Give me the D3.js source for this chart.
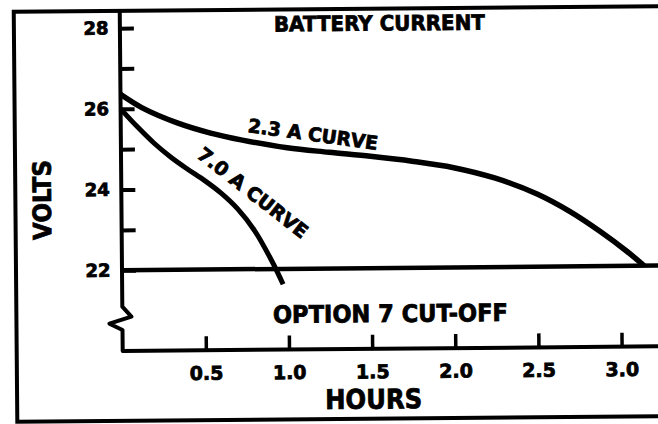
<!DOCTYPE html>
<html>
<head>
<meta charset="utf-8">
<script src="https://cdn.jsdelivr.net/npm/d3@7"></script>
<style>
  body { margin: 0; background: #fff; }
  svg { display: block; }
  text { font-family: "DejaVu Sans", sans-serif; font-weight: bold; fill: #000; stroke: #000; stroke-width: 0.8px; }
</style>
</head>
<body>
<div id="chart"></div>
<script>
// 2.3 A discharge curve
const hours23 = [0, 0.13, 0.34, 0.54, 0.73, 1.0, 1.25, 1.5, 1.75, 2.0, 2.25, 2.5, 2.7, 2.88, 3.04, 3.14];
const volts23 = [26.36, 26.02, 25.64, 25.38, 25.2, 25.0, 24.88, 24.77, 24.64, 24.47, 24.2, 23.8, 23.35, 22.85, 22.35, 22.0];

// 7.0 A discharge curve
const hours70 = [0, 0.1, 0.2, 0.3, 0.4, 0.5, 0.6, 0.7, 0.8, 0.9, 0.968];
const volts70 = [26.0, 25.55, 25.14, 24.79, 24.49, 24.21, 23.89, 23.49, 22.95, 22.21, 21.62];

const voltTicks = [22, 23, 24, 25, 26, 27, 28];
const voltLabels = [22, 24, 26, 28];
const hourTicks = [0.5, 1.0, 1.5, 2.0, 2.5, 3.0];
const cutOff = 22;

const width = 658;
const height = 424;

const svg = d3.select('#chart')
  .append('svg')
  .attr('width', width)
  .attr('height', height);

svg.append('rect').attr('width', width).attr('height', height).attr('fill', '#fff');

// the scan is slightly tilted
const g = svg.append('g').attr('transform', 'rotate(-0.5, 330, 212)');

const x = d3.scaleLinear().domain([0, 3.3]).range([121.5, 121.5 + 166.3 * 3.3]);
const y = d3.scaleLinear().domain([20, 28]).range([349.2, 26.3]);

// frame
g.append('path')
  .attr('d', `M ${width + 8},9 H 15.5 V 419 H ${width + 8}`)
  .attr('fill', 'none')
  .attr('stroke', '#000')
  .attr('stroke-width', 4);

// y axis (ticks inside, labels only on even volts)
const yAxis = d3.axisLeft(y)
  .tickValues(voltTicks)
  .tickSize(-14)
  .tickPadding(11.5)
  .tickFormat(d => voltLabels.includes(d) ? d : '');

g.append('g')
  .attr('transform', `translate(${x(0)},0)`)
  .call(yAxis)
  .call(a => a.select('.domain').remove())
  .call(a => a.selectAll('line').attr('stroke', '#000').attr('stroke-width', 4))
  .call(a => a.selectAll('text').style('font-size', '18px'));

// x axis (ticks pointing up)
const xAxis = d3.axisBottom(x)
  .tickValues(hourTicks)
  .tickSize(-14)
  .tickPadding(16)
  .tickFormat(d3.format('.1f'));

g.append('g')
  .attr('transform', `translate(0,${y(20)})`)
  .call(xAxis)
  .call(a => a.select('.domain').remove())
  .call(a => a.selectAll('line').attr('stroke', '#000').attr('stroke-width', 3.5))
  .call(a => a.selectAll('text').style('font-size', '19px'));

// axis lines with the break symbol on the volts axis
const x0 = x(0);
g.append('path')
  .attr('d', `M ${x0},9 V ${y(21.1)} L ${x0 + 9},${y(20.85)} L ${x0 - 13},${y(20.68)} L ${x0},${y(20.52)} V ${y(20)} H ${width + 8}`)
  .attr('fill', 'none')
  .attr('stroke', '#000')
  .attr('stroke-width', 4)
  .attr('stroke-linejoin', 'round');

// cut-off line
g.append('line')
  .attr('x1', x0).attr('x2', width + 8)
  .attr('y1', y(cutOff)).attr('y2', y(cutOff))
  .attr('stroke', '#000')
  .attr('stroke-width', 4.5);

const line = d3.line()
  .x(d => x(d[0]))
  .y(d => y(d[1]))
  .curve(d3.curveCatmullRom.alpha(0.5));

g.append('path')
  .datum(d3.zip(hours23, volts23))
  .attr('d', line)
  .attr('fill', 'none')
  .attr('stroke', '#000')
  .attr('stroke-width', 5.5);

g.append('path')
  .datum(d3.zip(hours70, volts70))
  .attr('d', line)
  .attr('fill', 'none')
  .attr('stroke', '#000')
  .attr('stroke-width', 5);

// labels
g.append('text')
  .attr('x', 381).attr('y', 31)
  .attr('text-anchor', 'middle')
  .attr('textLength', 211).attr('lengthAdjust', 'spacingAndGlyphs')
  .style('font-size', '21px')
  .text('BATTERY CURRENT');

g.append('text')
  .attr('transform', 'translate(313.7,134) rotate(8.4)')
  .attr('text-anchor', 'middle')
  .attr('dy', '0.36em')
  .attr('textLength', 131).attr('lengthAdjust', 'spacingAndGlyphs')
  .style('font-size', '19px')
  .text('2.3 A CURVE');

g.append('text')
  .attr('transform', 'translate(253,192) rotate(38.5)')
  .attr('text-anchor', 'middle')
  .attr('dy', '0.36em')
  .attr('textLength', 134).attr('lengthAdjust', 'spacingAndGlyphs')
  .style('font-size', '19px')
  .text('7.0 A CURVE');

g.append('text')
  .attr('x', 389.5).attr('y', 322.5)
  .attr('text-anchor', 'middle')
  .attr('textLength', 235).attr('lengthAdjust', 'spacingAndGlyphs')
  .style('font-size', '24px')
  .text('OPTION 7 CUT-OFF');

g.append('text')
  .attr('x', 372).attr('y', 409)
  .attr('text-anchor', 'middle')
  .attr('textLength', 97).attr('lengthAdjust', 'spacingAndGlyphs')
  .style('font-size', '27px')
  .text('HOURS');

g.append('text')
  .attr('transform', 'translate(42,197.5) rotate(-90)')
  .attr('text-anchor', 'middle')
  .attr('dy', '0.36em')
  .attr('textLength', 80).attr('lengthAdjust', 'spacingAndGlyphs')
  .style('font-size', '25px')
  .text('VOLTS');

svg.node();
</script>
</body>
</html>
